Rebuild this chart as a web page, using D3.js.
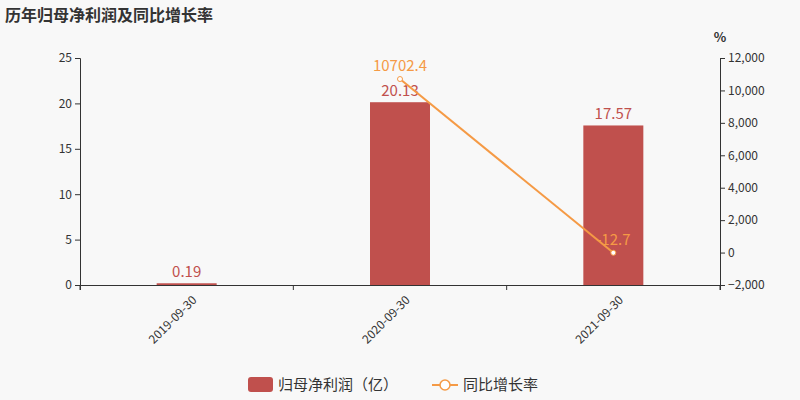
<!DOCTYPE html>
<html><head><meta charset="utf-8">
<script src="https://cdn.jsdelivr.net/npm/d3@7"></script>
<style>body{margin:0;background:#f8f8f8}</style></head>
<body><svg id="c" width="800" height="400"></svg>
<script>
const categories=["2019-09-30","2020-09-30","2021-09-30"];
const profit=[0.19,20.13,17.57];
const growth=[null,10702.4,-12.7];
const leftTicks=[0,5,10,15,20,25];
const rightTicks=[-2000,0,2000,4000,6000,8000,10000,12000];
const svg=d3.select("#c");
const font="'Noto Sans CJK SC','Noto Sans',sans-serif";
svg.append("rect").attr("width",800).attr("height",400).attr("fill","#f8f8f8");
const L=80,R=720,T=58,B=285;
const x=d3.scaleBand().domain(categories).range([L,R]);
const y=d3.scaleLinear().domain([0,25]).range([B,T]);
const y2=d3.scaleLinear().domain([-2000,12000]).range([B,T]);
const barColor="#c0504d",lineColor="#f59a45";
const gl=svg.append("g").attr("transform",`translate(${L},0)`).call(d3.axisLeft(y).tickValues(leftTicks).tickSize(5));
const gr=svg.append("g").attr("transform",`translate(${R},0)`).call(d3.axisRight(y2).tickValues(rightTicks).tickSize(5).tickFormat(d=>d3.format(",")(d).replace("-","−")));
const gx=svg.append("g").attr("transform",`translate(0,${B})`).call(d3.axisBottom(x).tickSizeOuter(0).tickSize(5));
gx.selectAll(".tick line").attr("transform",`translate(${-x.bandwidth()/2},0)`);
gx.append("line").attr("x1",R).attr("x2",R).attr("y1",0).attr("y2",5).attr("stroke","#333");
gx.selectAll("text").attr("transform","rotate(-45)").attr("text-anchor","end").attr("dx","-0.3em").attr("dy","0.9em");
[gl,gr,gx].forEach(g=>{g.selectAll("text").attr("fill","#333").style("font-size","12px").style("font-family",font);g.selectAll("path,line").attr("stroke","#333");});
svg.append("text").attr("x",5).attr("y",21).text("历年归母净利润及同比增长率").attr("font-weight","bold").attr("font-size",16).attr("fill","#333").style("font-family",font);
svg.append("text").attr("x",720).attr("y",42).text("%").attr("text-anchor","middle").attr("font-weight","bold").attr("font-size",13).attr("fill","#333").style("font-family",font);
const bw=60;
svg.selectAll(".bar").data(profit).join("rect").attr("x",(d,i)=>x(categories[i])+x.bandwidth()/2-bw/2).attr("width",bw).attr("y",d=>y(d)).attr("height",d=>B-y(d)).attr("fill",barColor);
svg.selectAll(".bl").data(profit).join("text").attr("x",(d,i)=>x(categories[i])+x.bandwidth()/2).attr("y",d=>y(d)-6).attr("text-anchor","middle").attr("fill",barColor).attr("font-size",15).style("font-family",font).text(d=>d);
const pts=growth.map((v,i)=>({v,c:categories[i]})).filter(d=>d.v!==null);
const line=d3.line().x(d=>x(d.c)+x.bandwidth()/2).y(d=>y2(d.v));
svg.append("path").attr("d",line(pts)).attr("fill","none").attr("stroke",lineColor).attr("stroke-width",2);
svg.selectAll(".pt").data(pts).join("circle").attr("cx",d=>x(d.c)+x.bandwidth()/2).attr("cy",d=>y2(d.v)).attr("r",2.5).attr("fill","#fff").attr("stroke",lineColor);
svg.selectAll(".pl").data(pts).join("text").attr("x",d=>x(d.c)+x.bandwidth()/2).attr("y",d=>y2(d.v)-8).attr("text-anchor","middle").attr("fill",lineColor).attr("font-size",15).style("font-family",font).text(d=>d.v);
const lg=svg.append("g");
lg.append("rect").attr("x",248).attr("y",377).attr("width",25).height;
lg.select("rect").attr("height",15).attr("rx",3).attr("fill",barColor);
lg.append("text").attr("x",278).attr("y",390).text("归母净利润（亿）").attr("font-size",15).attr("fill","#333").style("font-family",font);
lg.append("line").attr("x1",432).attr("x2",458).attr("y1",385).attr("y2",385).attr("stroke",lineColor).attr("stroke-width",2);
lg.append("circle").attr("cx",445).attr("cy",385).attr("r",5).attr("fill","#fff").attr("stroke",lineColor).attr("stroke-width",1.5);
lg.append("text").attr("x",463).attr("y",390).text("同比增长率").attr("font-size",15).attr("fill","#333").style("font-family",font);
</script></body></html>
